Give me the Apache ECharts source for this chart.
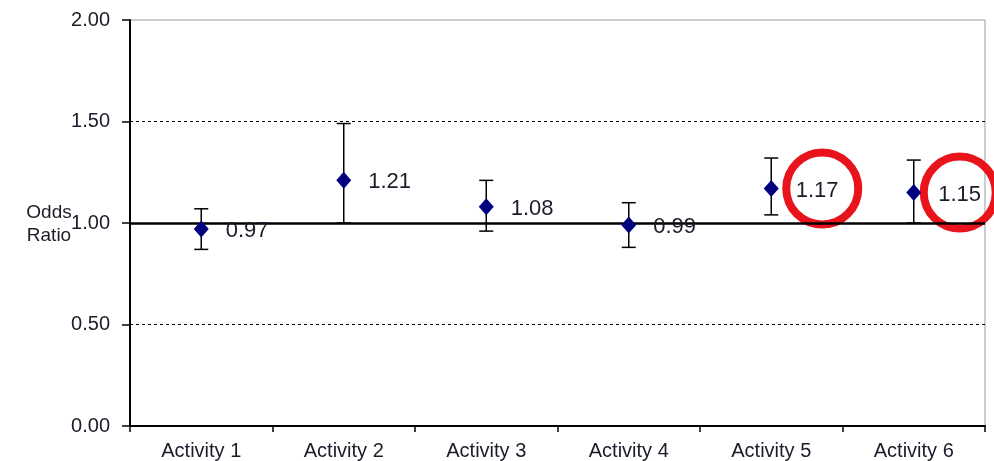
<!DOCTYPE html>
<html>
<head>
<meta charset="utf-8">
<script src="https://cdn.jsdelivr.net/npm/echarts@6/dist/echarts.min.js"></script>
<style>
  html, body { margin: 0; padding: 0; background: #fff; }
  #chart { width: 994px; height: 461px; }
</style>
</head>
<body>
<div id="chart"></div>
<script>
// Odds ratios with confidence intervals per activity
const categories = ['Activity 1', 'Activity 2', 'Activity 3', 'Activity 4', 'Activity 5', 'Activity 6'];
const oddsRatio = [0.97, 1.21, 1.08, 0.99, 1.17, 1.15];
const ciLow = [0.87, 1.00, 0.96, 0.88, 1.04, 1.00];
const ciHigh = [1.07, 1.49, 1.21, 1.10, 1.32, 1.31];
const yTicks = [0, 0.5, 1.0, 1.5, 2.0];
// activities whose labels get a red ring
const ringed = [4, 5];

const FONT = '"Liberation Sans", Arial, sans-serif';
const TEXT = '#1c1c2a';
const chart = echarts.init(document.getElementById('chart'), null, { renderer: 'canvas' });

const ringOffsets = { 4: 51, 5: 46 };

chart.setOption({
  animation: false,
  backgroundColor: '#ffffff',
  grid: {
    left: 130, right: 9, top: 20, bottom: 35,
    containLabel: false,
    show: true,
    borderColor: '#9a9a9a',
    borderWidth: 1
  },
  xAxis: {
    type: 'category',
    data: categories,
    boundaryGap: true,
    axisLine: { show: true, lineStyle: { color: '#000', width: 2 } },
    axisTick: { show: true, interval: 0, length: 6, lineStyle: { color: '#000', width: 1.5 } },
    axisLabel: { color: TEXT, fontFamily: FONT, fontSize: 20, margin: 15, interval: 0 },
    splitLine: { show: false }
  },
  yAxis: {
    type: 'value',
    min: yTicks[0],
    max: yTicks[yTicks.length - 1],
    interval: 0.5,
    axisLine: { show: true, lineStyle: { color: '#000', width: 2 } },
    axisTick: { show: true, length: 8, lineStyle: { color: '#000', width: 1.5 } },
    axisLabel: {
      color: TEXT, fontFamily: FONT, fontSize: 20, margin: 20,
      formatter: v => v.toFixed(2)
    },
    splitLine: { show: false }
  },
  graphic: [{
    type: 'text',
    x: 49,
    y: 201,
    z: 100,
    style: {
      text: 'Odds\nRatio',
      fill: TEXT,
      font: '19px ' + FONT,
      textAlign: 'center',
      textVerticalAlign: 'top',
      lineHeight: 23
    }
  }],
  series: [
    {
      // reference lines: dashed grid at 0.5 / 1.5 and heavy line at 1.0
      type: 'line',
      data: [],
      silent: true,
      markLine: {
        silent: true,
        symbol: ['none', 'none'],
        label: { show: false },
        data: [
          { yAxis: 0.5, lineStyle: { color: '#000', width: 1, type: [3, 3], opacity: 1 } },
          { yAxis: 1.5, lineStyle: { color: '#000', width: 1, type: [3, 3], opacity: 1 } },
          { yAxis: 1.0, lineStyle: { color: '#000', width: 2.5, type: 'solid', opacity: 1 } }
        ]
      }
    },
    {
      // confidence interval whiskers
      type: 'custom',
      z: 3,
      data: categories.map((c, i) => [i, ciLow[i], ciHigh[i]]),
      renderItem: function (params, api) {
        const i = api.value(0);
        const lo = api.coord([i, api.value(1)]);
        const hi = api.coord([i, api.value(2)]);
        const half = 7;
        const style = { stroke: '#000', lineWidth: 1.5 };
        return {
          type: 'group',
          children: [
            { type: 'line', shape: { x1: lo[0], y1: lo[1], x2: hi[0], y2: hi[1] }, style },
            { type: 'line', shape: { x1: hi[0] - half, y1: hi[1], x2: hi[0] + half, y2: hi[1] }, style },
            { type: 'line', shape: { x1: lo[0] - half, y1: lo[1], x2: lo[0] + half, y2: lo[1] }, style }
          ]
        };
      }
    },
    {
      // point estimates
      type: 'scatter',
      z: 5,
      symbol: 'diamond',
      symbolSize: [15, 17],
      itemStyle: { color: '#00007f', opacity: 1 },
      data: oddsRatio,
      label: {
        show: true,
        position: 'right',
        distance: 17,
        color: TEXT,
        fontFamily: FONT,
        fontSize: 22,
        offset: [0, 2],
        formatter: p => p.value.toFixed(2)
      }
    },
    {
      // red rings around highlighted labels
      type: 'scatter',
      z: 4,
      clip: false,
      silent: true,
      symbol: 'circle',
      symbolSize: 72,
      itemStyle: { color: 'rgba(0,0,0,0)', borderColor: '#e8131b', borderWidth: 8, opacity: 1 },
      data: ringed.map(i => ({ value: [i, oddsRatio[i]], symbolOffset: [ringOffsets[i], 0] }))
    }
  ]
});
</script>
</body>
</html>
